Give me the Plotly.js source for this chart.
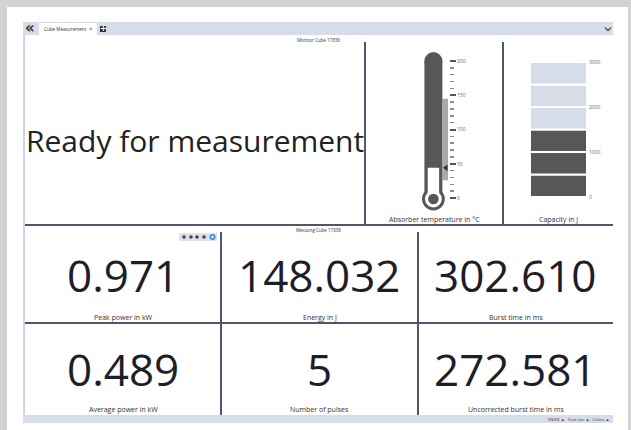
<!DOCTYPE html>
<html><head><meta charset="utf-8">
<script src="https://cdn.plot.ly/plotly-3.0.1.min.js"></script>
<style>html,body{margin:0;padding:0;background:#fff;overflow:hidden}#chart{width:631px;height:430px}</style>
</head><body><div id="chart"></div>
<script>
// ---------- data ----------
const panelTitles = ['Monitor Cube 17838', 'Messung Cube 17838'];
const statusMessage = 'Ready for measurement';
const gaugeLabels = ['Absorber temperature in °C', 'Capacity in J'];
const kpiValues = ['0.971', '148.032', '302.610', '0.489', '5', '272.581'];
const kpiLabels = ['Peak power in kW', 'Energy in J', 'Burst time in ms',
                   'Average power in kW', 'Number of pulses', 'Uncorrected burst time in ms'];
const thermoTicks = [0, 50, 100, 150, 200];
const thermoTickText = ['0', '50', '100', '150', '200'];
const thermoMinorTicks = [10, 20, 30, 40, 60, 70, 80, 90, 110, 120, 130, 140, 160, 170, 180, 190];
const absorberTemp = [44];
const tempBandLow = [26];
const tempBandHigh = [145];
const capacityBlockBase = [0, 500, 1000, 1500, 2000, 2500];
const capacityBlockSize = [500, 500, 500, 500, 500, 500];
const capacityValue = 1500;
const capacityTicks = [0, 1000, 2000, 3000];
const capacityTickText = ['0', '1000', '2000', '3000'];
const tabLabel = 'Cube Measurement';
const footerText = 'EN/DE \u25B2   Font size \u25B2   Colors \u25B2';

// ---------- layout helpers ----------
const W = 631, H = 430;
const X = p => p / W;
const Y = p => 1 - p / H;
const FONT = '"Open Sans", "Noto Sans", sans-serif';
const DIV = '#52566a';
const BAR = '#d6dce8';
const DARK = '#575757';

const shapes = [];
const rect = (x0, y0, x1, y1, fill, layer) => shapes.push({type: 'rect', xref: 'paper', yref: 'paper',
  x0: X(x0), x1: X(x1), y0: Y(y1), y1: Y(y0), fillcolor: fill, line: {width: 0}, layer: layer || 'below'});
const line = (x0, y0, x1, y1, color, w) => shapes.push({type: 'line', xref: 'paper', yref: 'paper',
  x0: X(x0), x1: X(x1), y0: Y(y0), y1: Y(y1), line: {color: color, width: w}, layer: 'below'});
const dot = (cx, cy, r, fill) => shapes.push({type: 'circle', xref: 'paper', yref: 'paper',
  x0: X(cx - r), x1: X(cx + r), y0: Y(cy + r), y1: Y(cy - r), fillcolor: fill, line: {width: 0}, layer: 'above'});

// frame
rect(0, 0, 7, 430, '#d3d3d3');
rect(0, 0, 631, 7, '#d3d3d3');
rect(628, 0, 631, 430, '#d3d3d3');
rect(23, 22, 613, 35, BAR);
rect(39, 23, 97, 35, '#ffffff');
rect(100, 26, 106, 32, '#333333');
line(24, 35, 24, 415, '#cdd1ea', 2);
rect(23, 415, 613, 423, BAR);
// dividers
line(25, 225, 613, 225, DIV, 2);
line(25, 323, 613, 323, DIV, 2);
line(365, 42, 365, 225, DIV, 2);
line(503, 42, 503, 225, DIV, 2);
line(221, 232, 221, 415, DIV, 2);
line(418, 232, 418, 415, DIV, 2);
// small toolbar
rect(179, 233, 217, 241, '#dde2ee');
[184, 191, 197, 204].forEach(x => dot(x, 237, 1.8, '#444'));
dot(212.5, 237, 3, '#3b8fe0');
dot(212.5, 237, 1.2, '#ffffff');
// chevron
shapes.push({type: 'path', xref: 'paper', yref: 'paper',
  path: `M ${X(605)} ${Y(27.5)} L ${X(608)} ${Y(30.5)} L ${X(611)} ${Y(27.5)}`,
  line: {color: '#555', width: 1.5}});

// thermometer drawn in its own axes (x in px units, y in °C)
const tx = 433.4;
const thermoShape = (o) => Object.assign({xref: 'x', yref: 'y', line: {width: 0}}, o);
shapes.push(thermoShape({type: 'rect', x0: 424.4, x1: 442.4, y0: 0, y1: thermoTicks[thermoTicks.length - 1], fillcolor: DARK, layer: 'below'}));
shapes.push(thermoShape({type: 'circle', xsizemode: 'pixel', ysizemode: 'pixel', xanchor: tx, yanchor: thermoTicks[thermoTicks.length - 1],
  x0: -9, x1: 9, y0: -9, y1: 9, fillcolor: DARK, layer: 'below'}));
shapes.push(thermoShape({type: 'circle', xsizemode: 'pixel', ysizemode: 'pixel', xanchor: tx, yanchor: -1.5,
  x0: -11.4, x1: 11.4, y0: -11.4, y1: 11.4, fillcolor: DARK, layer: 'below'}));
shapes.push(thermoShape({type: 'circle', xsizemode: 'pixel', ysizemode: 'pixel', xanchor: tx, yanchor: -1.5,
  x0: -8.4, x1: 8.4, y0: -8.4, y1: 8.4, fillcolor: '#ffffff', layer: 'above'}));
shapes.push(thermoShape({type: 'circle', xsizemode: 'pixel', ysizemode: 'pixel', xanchor: tx, yanchor: -1.5,
  x0: -5.3, x1: 5.3, y0: -5.3, y1: 5.3, fillcolor: DARK, layer: 'above'}));

// ---------- annotations ----------
const ann = [];
const txt = (x, y, t, size, o) => ann.push(Object.assign({xref: 'paper', yref: 'paper', x: X(x), y: Y(y), text: t,
  showarrow: false, xanchor: 'center', yanchor: 'middle', font: {family: FONT, size: size, color: '#333'}}, o || {}));

txt(30, 28.5, '\u00AB', 15, {font: {family: 'DejaVu Sans', size: 15, color: '#333', weight: 700}});
txt(42, 29, tabLabel, 4.6, {xanchor: 'left'});
txt(90.5, 29, '\u00D7', 6);
txt(103, 29, '+', 8, {font: {family: 'DejaVu Sans', size: 8, color: '#fff', weight: 700}});
txt(318, 40, panelTitles[0], 4.5);
txt(319, 230, panelTitles[1], 4.5);
txt(195, 140, statusMessage, 30, {font: {family: FONT, size: 30, color: '#222'}});
txt(434, 219, gaugeLabels[0], 7);
txt(558, 219, gaugeLabels[1], 7);
const colX = [123, 319.5, 515.5];
const rowNumY = [275, 369];
const rowLabY = [317, 409];
kpiValues.forEach((v, i) => {
  const c = i % 3, r = Math.floor(i / 3);
  txt(colX[c], rowNumY[r], v, 44, {font: {family: FONT, size: 44, color: '#1e1e28', weight: 400}});
  txt(colX[c], rowLabY[r], kpiLabels[i], 7);
});
txt(611, 419, footerText, 4, {xanchor: 'right'});

// ---------- traces ----------
const traces = [
  { // temperature band
    type: 'bar', x: [445], base: tempBandLow, y: tempBandHigh.map((h, i) => h - tempBandLow[i]), width: [6],
    marker: {color: '#a9a9a9', line: {width: 0}}, xaxis: 'x', yaxis: 'y', hoverinfo: 'skip'
  },
  { // white level in tube
    type: 'bar', x: [tx], base: [0], y: absorberTemp, width: [11.4],
    marker: {color: '#ffffff', line: {width: 0}}, xaxis: 'x', yaxis: 'y', hoverinfo: 'skip'
  },
  { // pointer
    type: 'scatter', mode: 'markers', x: [446], y: absorberTemp,
    marker: {symbol: 'triangle-left', size: 6, color: '#333'}, xaxis: 'x', yaxis: 'y', hoverinfo: 'skip'
  },
  { // capacity blocks
    type: 'bar', x: capacityBlockBase.map(() => 558.5), base: capacityBlockBase, y: capacityBlockSize,
    width: capacityBlockBase.map(() => 57),
    marker: {color: capacityBlockBase.map(b => b < capacityValue ? DARK : BAR), line: {color: '#ffffff', width: 2}},
    xaxis: 'x2', yaxis: 'y2', hoverinfo: 'skip'
  }
];

const k = 0.685; // px per °C
const layout = {
  width: W, height: H, margin: {l: 0, r: 0, t: 0, b: 0, pad: 0},
  paper_bgcolor: '#ffffff', plot_bgcolor: 'rgba(0,0,0,0)',
  showlegend: false, barmode: 'overlay',
  font: {family: FONT},
  xaxis: {domain: [X(364), X(503)], range: [364, 503], visible: false, anchor: 'y', fixedrange: true},
  yaxis: {domain: [Y(198 + 40 * k), Y(198 - 230 * k)], range: [-40, 230], anchor: 'free', position: X(449),
    side: 'right', showgrid: false, zeroline: false, showline: false,
    tickmode: 'array', tickvals: thermoTicks, ticktext: thermoTickText,
    ticks: 'outside', ticklen: 6, tickwidth: 2, tickcolor: '#555',
    minor: {tickmode: 'array', tickvals: thermoMinorTicks, ticks: 'outside', ticklen: 4, tickwidth: 1.5, tickcolor: '#8a8a8a', showgrid: false},
    tickfont: {size: 5, color: '#666', family: FONT}, fixedrange: true},
  xaxis2: {domain: [X(503), X(613)], range: [503, 613], visible: false, anchor: 'y2', fixedrange: true},
  yaxis2: {domain: [Y(197), Y(62)], range: [0, 3000], anchor: 'free', position: X(588), side: 'right',
    showgrid: false, zeroline: false, showline: false, ticks: '',
    tickmode: 'array', tickvals: capacityTicks, ticktext: capacityTickText,
    tickfont: {size: 5, color: '#666', family: FONT}, fixedrange: true},
  shapes: shapes, annotations: ann
};

Plotly.newPlot('chart', traces, layout, {staticPlot: true, displayModeBar: false});
</script>
</body></html>
